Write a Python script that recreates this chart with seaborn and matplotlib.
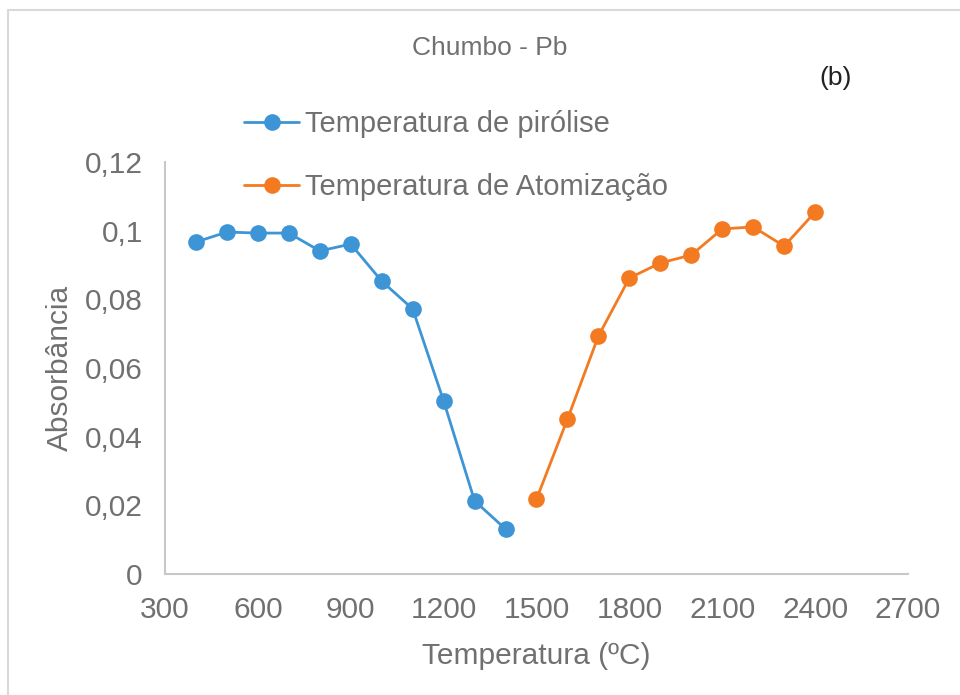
import pandas as pd
import matplotlib.pyplot as plt
import seaborn as sns
from matplotlib.lines import Line2D

# Data
temp_pirolise = [400, 500, 600, 700, 800, 900, 1000, 1100, 1200, 1300, 1400]
abs_pirolise = [0.0967, 0.0996, 0.0993, 0.0993, 0.0941, 0.0961, 0.0853, 0.0772, 0.0504, 0.0213, 0.0131]
temp_atomizacao = [1500, 1600, 1700, 1800, 1900, 2000, 2100, 2200, 2300, 2400]
abs_atomizacao = [0.0218, 0.0451, 0.0693, 0.0862, 0.0906, 0.0929, 0.1005, 0.1011, 0.0955, 0.1054]

x_ticks = [300, 600, 900, 1200, 1500, 1800, 2100, 2400, 2700]
y_ticks = [0, 0.02, 0.04, 0.06, 0.08, 0.10, 0.12]
y_tick_labels = ['0', '0,02', '0,04', '0,06', '0,08', '0,1', '0,12']

label_pir = 'Temperatura de pirólise'
label_atom = 'Temperatura de Atomização'

df = pd.concat([
    pd.DataFrame({'Temperatura': temp_pirolise, 'Absorbancia': abs_pirolise, 'Serie': label_pir}),
    pd.DataFrame({'Temperatura': temp_atomizacao, 'Absorbancia': abs_atomizacao, 'Serie': label_atom}),
])

sns.set_style('white')
plt.rcParams['font.family'] = ['Liberation Sans', 'DejaVu Sans']
text_color = '#707070'
blue = '#3D95D5'
orange = '#F37A21'

fig = plt.figure(figsize=(9.6, 6.95), dpi=100)
ax = fig.add_axes([0.1719, 0.1741, 0.9458 - 0.1719, 0.7669 - 0.1741])

sns.lineplot(data=df, x='Temperatura', y='Absorbancia', hue='Serie',
             palette={label_pir: blue, label_atom: orange},
             marker='o', markersize=12, markeredgewidth=0, linewidth=2,
             legend=False, ax=ax)

ax.set_xlim(300, 2700)
ax.set_ylim(0, 0.12)
ax.set_xticks(x_ticks)
ax.set_xticklabels([str(t) for t in x_ticks])
ax.set_yticks(y_ticks)
ax.set_yticklabels(y_tick_labels)
ax.tick_params(axis='both', length=0, labelsize=21.5, colors=text_color)
ax.tick_params(axis='y', pad=16)
ax.tick_params(axis='x', pad=16)

for side in ['top', 'right']:
    ax.spines[side].set_visible(False)
for side in ['left', 'bottom']:
    ax.spines[side].set_color('#C8C8C8')
    ax.spines[side].set_linewidth(1.5)

ax.set_xlabel('Temperatura (ºC)', fontsize=21.5, color=text_color, labelpad=13)
ax.set_ylabel('Absorbância', fontsize=21.5, color=text_color, labelpad=8)

# Legend
handles = [
    Line2D([], [], color=blue, marker='o', markersize=12, markeredgewidth=0, linewidth=2),
    Line2D([], [], color=orange, marker='o', markersize=12, markeredgewidth=0, linewidth=2),
]
fig.legend(handles, [label_pir, label_atom], loc='upper left',
           bbox_to_anchor=(244 / 960, 1 - 110 / 695), frameon=False,
           fontsize=21, labelcolor=text_color, handlelength=1.9,
           handletextpad=0.2, labelspacing=1.2, borderaxespad=0, borderpad=0)

fig.text(0.51, 1 - 48 / 695, 'Chumbo - Pb', ha='center', va='center',
         fontsize=19, color=text_color)
fig.text(836 / 960, 1 - 78 / 695, '(b)', ha='center', va='center',
         fontsize=19, color='#222222')

# Outer chart frame
fig.add_artist(Line2D([8 / 960, 1], [1 - 10 / 695, 1 - 10 / 695], color='#D9D9D9', linewidth=1.5))
fig.add_artist(Line2D([8 / 960, 8 / 960], [0, 1 - 10 / 695], color='#D9D9D9', linewidth=1.5))

plt.savefig('out.png', dpi=100)
